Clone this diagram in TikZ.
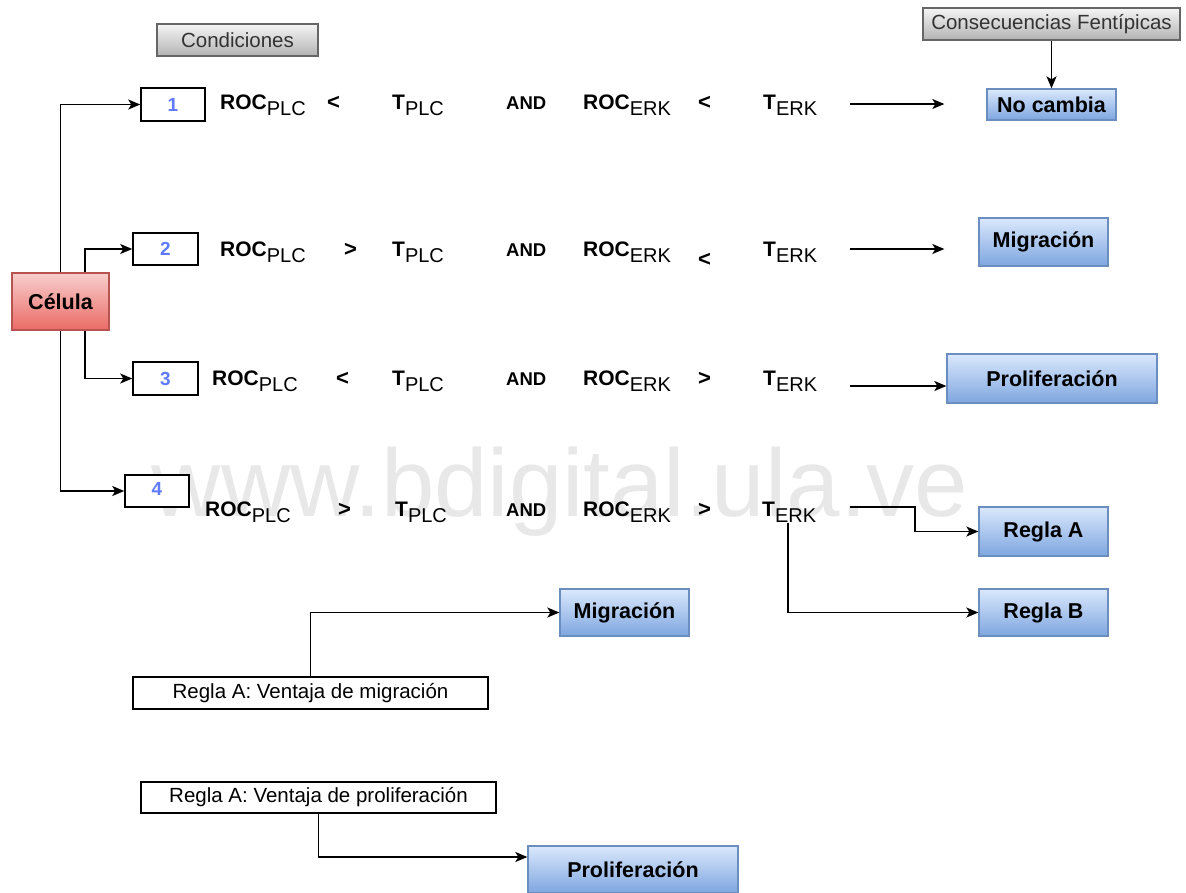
\documentclass[tikz,border=0pt]{standalone}
\usepackage{fontspec}
\setmainfont{Liberation Sans}
\usetikzlibrary{arrows.meta}
\definecolor{numblue}{HTML}{5F7BFF}
\definecolor{bluetop}{HTML}{DAE8FC}
\definecolor{bluebot}{HTML}{7EA6E0}
\definecolor{blueline}{HTML}{6C8EBF}
\definecolor{redtop}{HTML}{F8CECC}
\definecolor{redbot}{HTML}{EA6B66}
\definecolor{redline}{HTML}{B85450}
\definecolor{graytop}{HTML}{F5F5F5}
\definecolor{graybot}{HTML}{B3B3B3}
\definecolor{grayline}{HTML}{666666}
\definecolor{wmark}{HTML}{E8E8E8}
\newcommand{\rocx}[1]{{\bfseries ROC}\raisebox{-6pt}{\fontsize{20}{22}\selectfont #1}}
\newcommand{\tx}[1]{{\bfseries T}\raisebox{-6pt}{\fontsize{20}{22}\selectfont #1}}
\tikzset{
  box/.style={rectangle, inner sep=0pt, line width=1.3pt},
  graybox/.style={box, draw=grayline, top color=graytop, bottom color=graybot, text=black!80, font=\fontsize{20.5}{23}\selectfont},
  bluebox/.style={box, draw=blueline, top color=bluetop, bottom color=bluebot, font=\fontsize{21.5}{24}\selectfont\bfseries},
  redbox/.style={box, draw=redline, top color=redtop, bottom color=redbot, font=\fontsize{21.5}{24}\selectfont\bfseries},
  numbox/.style={box, draw=black, fill=white, text=numblue, font=\fontsize{19}{22}\selectfont\bfseries, line width=1.5pt},
  rulebox/.style={box, draw=black, fill=white, font=\fontsize{20.5}{23}\selectfont, line width=1.5pt},
  term/.style={anchor=base west, inner sep=1pt, font=\fontsize{21}{24}\selectfont},
  andword/.style={anchor=base west, inner sep=1pt, font=\fontsize{18.5}{21}\selectfont\bfseries},
  opsym/.style={anchor=base west, inner sep=1pt, font=\fontsize{22}{24}\selectfont\bfseries},
  arr/.style={line width=1.6pt, -{Stealth[length=12pt,width=10pt,inset=3pt]}},
  conn/.style={line width=1.6pt}
}
\begin{document}
\begin{tikzpicture}[x=1pt,y=-1pt]
\useasboundingbox (0,0) rectangle (1186,892);
% watermark
\node[text=wmark, font=\fontsize{96}{100}\selectfont, inner sep=0pt] (wm) at (560,492) {www.bdigital.ula.ve};

% headers
\node[graybox, minimum width=161pt, minimum height=32pt] (cond) at (237.5,40) {Condiciones};
\node[graybox, minimum width=257pt, minimum height=32pt] (cons) at (1051.5,24) {Consecuencias Fentípicas};

% cell and number boxes
\node[redbox, minimum width=97pt, minimum height=57pt] (celula) at (60.5,301.5) {Célula};
\node[numbox, minimum width=64pt, minimum height=33pt] (n1) at (173,104.5) {1};
\node[numbox, minimum width=65pt, minimum height=32pt] (n2) at (165.5,249) {2};
\node[numbox, minimum width=65pt, minimum height=33pt] (n3) at (165.5,378.5) {3};
\node[numbox, minimum width=64pt, minimum height=32pt] (n4) at (157,491) {\raisebox{5pt}{4}};

% outcome boxes
\node[bluebox, minimum width=129pt, minimum height=31pt] (nocambia) at (1051.5,104.5) {No cambia};
\node[bluebox, minimum width=129pt, minimum height=48pt] (mig1) at (1043.5,242) {Migración};
\node[bluebox, minimum width=210pt, minimum height=49pt] (prol1) at (1052,378.5) {Proliferación};
\node[bluebox, minimum width=129pt, minimum height=49pt] (reglaA) at (1043.5,531.5) {Regla A};
\node[bluebox, minimum width=129pt, minimum height=47pt] (reglaB) at (1043.5,612.5) {Regla B};
\node[bluebox, minimum width=129pt, minimum height=47pt] (mig2) at (624.5,612.5) {Migración};
\node[bluebox, minimum width=210pt, minimum height=47pt] (prol2) at (633,869.5) {Proliferación};

% rule boxes
\node[rulebox, minimum width=355pt, minimum height=32pt] (rmig) at (310.5,693) {Regla A: Ventaja de migración};
\node[rulebox, minimum width=355pt, minimum height=31pt] (rprol) at (318.5,797.5) {Regla A: Ventaja de proliferación};

% row 1
\node[term] (r1a) at (219,109.5) {\rocx{PLC}};
\node[opsym] (r1b) at (326,109.5) {<};
\node[term] (r1c) at (391,109.5) {\tx{PLC}};
\node[andword] (r1d) at (505,109.5) {AND};
\node[term] (r1e) at (582,109.5) {\rocx{ERK}};
\node[opsym] (r1f) at (697,109.5) {<};
\node[term] (r1g) at (762,109.5) {\tx{ERK}};
% row 2
\node[term] (r2a) at (219,256.5) {\rocx{PLC}};
\node[opsym] (r2b) at (343,256.5) {>};
\node[term] (r2c) at (391,256.5) {\tx{PLC}};
\node[andword] (r2d) at (505,256.5) {AND};
\node[term] (r2e) at (582,256.5) {\rocx{ERK}};
\node[opsym] (r2f) at (697,266) {<};
\node[term] (r2g) at (762,256.5) {\tx{ERK}};
% row 3
\node[term] (r3a) at (211,385.5) {\rocx{PLC}};
\node[opsym] (r3b) at (335,385.5) {<};
\node[term] (r3c) at (391,385.5) {\tx{PLC}};
\node[andword] (r3d) at (505,385.5) {AND};
\node[term] (r3e) at (582,385.5) {\rocx{ERK}};
\node[opsym] (r3f) at (697,385.5) {>};
\node[term] (r3g) at (762,385.5) {\tx{ERK}};
% row 4
\node[term] (r4a) at (204,516.5) {\rocx{PLC}};
\node[opsym] (r4b) at (337,516.5) {>};
\node[term] (r4c) at (394,516.5) {\tx{PLC}};
\node[andword] (r4d) at (505,516.5) {AND};
\node[term] (r4e) at (582,516.5) {\rocx{ERK}};
\node[opsym] (r4f) at (697,516.5) {>};
\node[term, inner sep=0pt] (r4g) at (762,516.5) {\tx{ERK}};

% connectors from cell
\draw[arr] (celula.north) |- (n1.west);
\draw[arr] (celula.south) |- (n4.west);
\draw[arr] ([xshift=24.5pt]celula.north) |- (n2.west);
\draw[arr] ([xshift=24.5pt]celula.south) |- (n3.west);

% header arrow
\draw[arr] (cons.south) -- (nocambia.north);

% row arrows
\coordinate (s1) at (850,104);
\coordinate (s2) at (850,249);
\coordinate (s3) at (850,386);
\coordinate (s4) at (850,507);
\draw[arr, shorten >=42pt] (s1) -- (s1 -| nocambia.west);
\draw[arr, shorten >=34pt] (s2) -- (s2 -| mig1.west);
\draw[arr] (s3) -- (s3 -| prol1.west);
\draw[arr] (s4) -- (915,507) |- (reglaA.west);
\draw[arr] ([xshift=-1pt]r4g.south) |- (reglaB.west);

% rule arrows
\draw[arr] (rmig.north) |- (mig2.west);
\draw[arr] (rprol.south) |- ([yshift=12.5pt]prol2.west);
\end{tikzpicture}
\end{document}
